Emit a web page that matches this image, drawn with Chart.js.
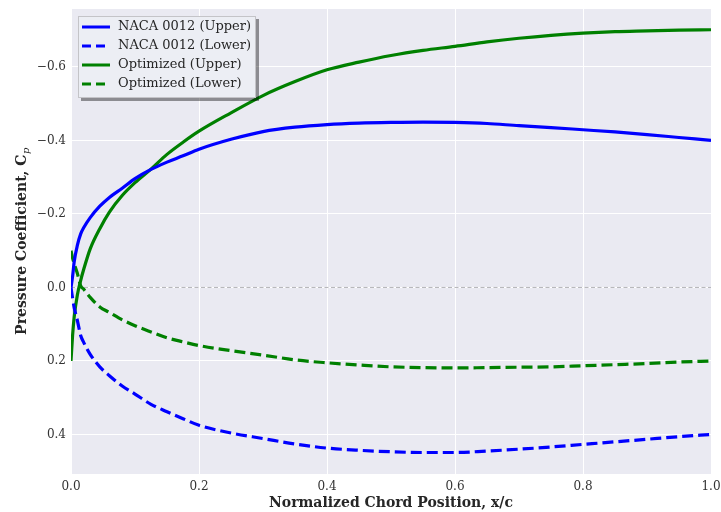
<!DOCTYPE html>
<html>
<head>
<meta charset="utf-8">
<script src="https://cdn.jsdelivr.net/npm/chart.js@4.4.1/dist/chart.umd.min.js"></script>
<style>
  html, body { margin: 0; padding: 0; background: #ffffff; }
  #wrap { width: 721px; height: 512px; }
</style>
</head>
<body>
<div id="wrap"><canvas id="c" width="721" height="512"></canvas></div>
<script>
// ---- data ----
const xPositions = [0, 0.0025, 0.005, 0.01, 0.015, 0.02, 0.03, 0.045, 0.06, 0.08, 0.1, 0.125, 0.15, 0.175, 0.2, 0.25, 0.3, 0.35, 0.4, 0.45, 0.5, 0.55, 0.6, 0.65, 0.7, 0.75, 0.8, 0.85, 0.9, 0.95, 1.0];
const nacaUpper = [0.0, -0.03, -0.07, -0.115, -0.145, -0.163, -0.19, -0.221, -0.245, -0.27, -0.296, -0.321, -0.341, -0.358, -0.376, -0.403, -0.424, -0.436, -0.443, -0.447, -0.449, -0.45, -0.449, -0.446, -0.44, -0.435, -0.429, -0.423, -0.416, -0.408, -0.40];
const nacaLower = [0.0, 0.03, 0.055, 0.09, 0.13, 0.15, 0.182, 0.216, 0.24, 0.268, 0.29, 0.318, 0.338, 0.357, 0.375, 0.396, 0.411, 0.426, 0.437, 0.443, 0.447, 0.449, 0.449, 0.445, 0.44, 0.434, 0.427, 0.42, 0.413, 0.406, 0.40];
const optUpper = [0.2, 0.13, 0.08, 0.02, -0.018, -0.05, -0.105, -0.16, -0.205, -0.25, -0.285, -0.322, -0.362, -0.395, -0.425, -0.475, -0.522, -0.56, -0.592, -0.613, -0.631, -0.645, -0.656, -0.668, -0.678, -0.686, -0.692, -0.696, -0.698, -0.70, -0.701];
const optLower = [-0.1, -0.08, -0.065, -0.038, -0.005, 0.005, 0.027, 0.053, 0.068, 0.088, 0.104, 0.121, 0.137, 0.148, 0.158, 0.172, 0.184, 0.197, 0.205, 0.211, 0.216, 0.218, 0.219, 0.218, 0.217, 0.216, 0.213, 0.21, 0.207, 0.203, 0.20];
const seriesLabels = ['NACA 0012 (Upper)', 'NACA 0012 (Lower)', 'Optimized (Upper)', 'Optimized (Lower)'];
const xTicks = [0, 0.2, 0.4, 0.6, 0.8, 1.0];
const yTicks = [-0.6, -0.4, -0.2, 0.0, 0.2, 0.4];
const xTitle = 'Normalized Chord Position, x/c';
const yTitleMain = 'Pressure Coefficient, C';
const yTitleSub = 'p';

// ---- build ----
const FONT = "'DejaVu Serif', serif";
const toPts = arr => xPositions.map((x, i) => ({ x: x, y: arr[i] }));
const seriesValues = [nacaUpper, nacaLower, optUpper, optLower];
const seriesColors = ['#0000ff', '#0000ff', '#008000', '#008000'];
const seriesDash = [[], [11, 5], [], [11, 5]];

const datasets = seriesValues.map((v, i) => ({
  label: seriesLabels[i],
  data: toPts(v),
  borderColor: seriesColors[i],
  backgroundColor: seriesColors[i],
  borderWidth: 3.2,
  borderDash: seriesDash[i],
  pointRadius: 0,
  fill: false,
  cubicInterpolationMode: 'monotone'
}));

const fmt = v => {
  const s = Math.abs(v).toFixed(1);
  return (v < -1e-9 ? '\u2212' : '') + s;
};

const bgPlugin = {
  id: 'bg',
  beforeDraw(chart) {
    const { ctx, chartArea: a } = chart;
    ctx.save();
    ctx.fillStyle = '#ffffff';
    ctx.fillRect(0, 0, chart.width, chart.height);
    ctx.fillStyle = '#eaeaf2';
    ctx.fillRect(a.left, a.top, a.right - a.left, a.bottom - a.top);
    ctx.restore();
  },
  beforeDatasetsDraw(chart) {
    const { ctx, chartArea: a } = chart;
    const y = chart.scales.y.getPixelForValue(0);
    ctx.save();
    ctx.strokeStyle = '#b4b4b8';
    ctx.lineWidth = 1;
    ctx.setLineDash([4, 2.5]);
    ctx.beginPath();
    ctx.moveTo(a.left, y);
    ctx.lineTo(a.right, y);
    ctx.stroke();
    ctx.restore();
  }
};

const decorPlugin = {
  id: 'decor',
  afterDraw(chart) {
    const { ctx, chartArea: a } = chart;
    ctx.save();
    ctx.translate(22, (a.top + a.bottom) / 2);
    ctx.rotate(-Math.PI / 2);
    ctx.fillStyle = '#262626';
    const mainFont = "bold 14px " + FONT;
    const subFont = "italic 10px " + FONT;
    ctx.font = mainFont;
    const w1 = ctx.measureText(yTitleMain).width;
    ctx.font = subFont;
    const w2 = ctx.measureText(yTitleSub).width;
    const start = -(w1 + w2) / 2;
    ctx.textBaseline = 'middle';
    ctx.textAlign = 'left';
    ctx.font = mainFont;
    ctx.fillText(yTitleMain, start, 0);
    ctx.font = subFont;
    ctx.fillText(yTitleSub, start + w1 + 0.5, 4);
    ctx.restore();

    ctx.save();
    ctx.fillStyle = '#262626';
    ctx.font = "bold 14px " + FONT;
    ctx.textAlign = 'center';
    ctx.textBaseline = 'middle';
    ctx.fillText(xTitle, (a.left + a.right) / 2, 503);
    ctx.restore();

    const bx = a.left + 7, by = a.top + 7, bw = 178, bh = 82;
    ctx.save();
    ctx.fillStyle = 'rgba(0,0,0,0.4)';
    ctx.fillRect(bx + 3, by + 3, bw, bh);
    ctx.fillStyle = '#eceef4';
    ctx.fillRect(bx, by, bw, bh);
    ctx.strokeStyle = '#c4c4c8';
    ctx.lineWidth = 1;
    ctx.strokeRect(bx + 0.5, by + 0.5, bw - 1, bh - 1);
    chart.data.datasets.forEach((ds, i) => {
      const cy = by + 11 + i * 19;
      ctx.strokeStyle = ds.borderColor;
      ctx.lineWidth = 3;
      ctx.setLineDash(ds.borderDash && ds.borderDash.length ? [9, 5] : []);
      ctx.beginPath();
      ctx.moveTo(bx + 4, cy);
      ctx.lineTo(bx + 32, cy);
      ctx.stroke();
      ctx.setLineDash([]);
      ctx.fillStyle = '#262626';
      ctx.font = "13px " + FONT;
      ctx.textAlign = 'left';
      ctx.textBaseline = 'middle';
      ctx.fillText(ds.label, bx + 40, cy);
    });
    ctx.restore();
  }
};

new Chart(document.getElementById('c'), {
  type: 'line',
  data: { datasets: datasets },
  plugins: [bgPlugin, decorPlugin],
  options: {
    responsive: false,
    animation: false,
    devicePixelRatio: 1,
    layout: { padding: { top: 9, right: 10, left: 0, bottom: 0 } },
    plugins: { legend: { display: false }, tooltip: { enabled: false } },
    scales: {
      x: {
        type: 'linear',
        min: 0,
        max: 1,
        afterFit(s) { s.height = 38; s.paddingLeft = 0; s.paddingRight = 0; },
        afterBuildTicks(s) { s.ticks = xTicks.map(v => ({ value: v })); },
        grid: { color: '#ffffff', lineWidth: 1, drawTicks: false },
        border: { display: false },
        ticks: {
          padding: 6,
          color: '#333333',
          font: { family: FONT, size: 12 },
          callback: v => fmt(v)
        }
      },
      y: {
        type: 'linear',
        reverse: true,
        min: -0.7575,
        max: 0.5075,
        afterFit(s) { s.width = 71; s.paddingTop = 0; s.paddingBottom = 0; },
        afterBuildTicks(s) { s.ticks = yTicks.map(v => ({ value: v })); },
        grid: { color: '#ffffff', lineWidth: 1, drawTicks: false },
        border: { display: false },
        ticks: {
          padding: 5,
          color: '#333333',
          font: { family: FONT, size: 12 },
          callback: v => fmt(v)
        }
      }
    }
  }
});
</script>
</body>
</html>
